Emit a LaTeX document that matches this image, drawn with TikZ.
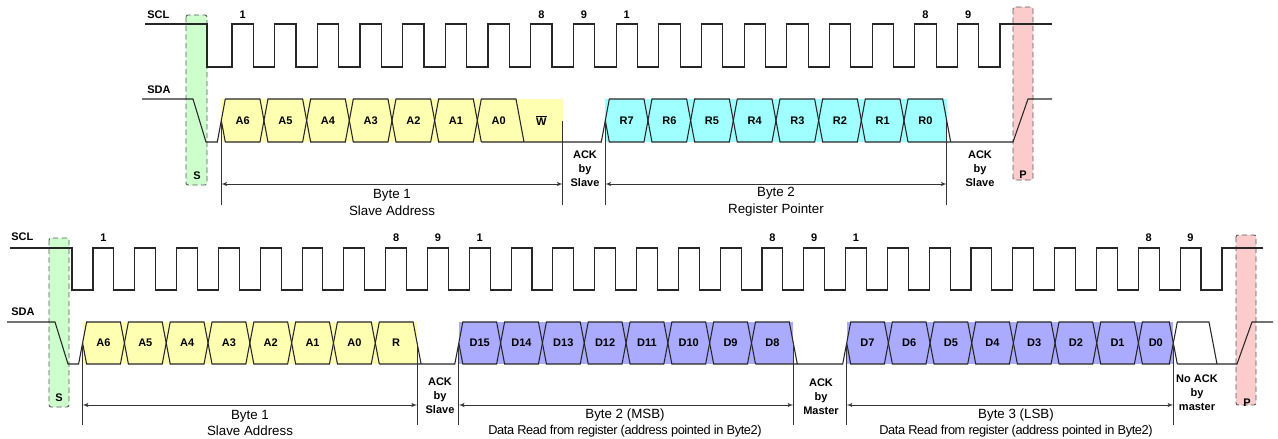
\documentclass[tikz,border=0pt]{standalone}
\usepackage{fontspec}
\setmainfont{Liberation Sans}
\usetikzlibrary{arrows}
\definecolor{addrfill}{RGB}{255,255,178}
\definecolor{regfill}{RGB}{160,255,255}
\definecolor{datafill}{RGB}{170,170,255}
\definecolor{startfill}{RGB}{204,255,204}
\definecolor{stopfill}{RGB}{252,204,204}
\tikzset{
    wave/.style={
        draw=black!85,
        line width=0.8pt},
    bit/.style={
        font=\fontsize{8.25}{10}\selectfont\bfseries,
        inner sep=0pt},
    tag/.style={
        font=\fontsize{8.25}{10.5}\selectfont\bfseries,
        align=center,
        inner sep=0pt},
    bytetext/.style={
        font=\fontsize{10}{12.75}\selectfont,
        align=center,
        inner sep=0pt},
    marker/.style={
        draw=black!80,
        line width=0.6pt},
    span/.style={
        draw=black!80,
        line width=0.5pt,
        <->,>=latex'},
    condbox/.style={
        draw=black!65,
        line width=0.7pt,
        dash pattern=on 4pt off 2.5pt,
        rounded corners=1.5pt}}

\begin{document}
\begin{tikzpicture}[x=0.75pt,y=-0.75pt]
    \useasboundingbox (0,0) rectangle (1278,439);

    \draw[condbox,fill=startfill] (186,15) rectangle (207,185);
    \draw[condbox,fill=stopfill] (1013,7) rectangle (1033,180);
    \fill[addrfill] (221.3,99) rectangle (562.7,142);
    \fill[regfill] (605.3,99) rectangle (946.7,142);

    \node[bit,anchor=west] (scl1) at (147,15) {SCL};
    \node[bit,anchor=west] (sda1) at (147,90) {SDA};
    \draw[wave] (145,24) -- (207,24) -- (207,67)
        \foreach \k in {0,...,17} { -- ({232+42.67*\k},67) -- ++(0,-43) -- ++(21.33,0) -- ++(0,43) }
        -- (1000,67) -- (1000,24) -- (1052,24);
    \foreach \k/\n in {0/1,7/8,8/9,9/1,16/8,17/9}
        \node[bit] (tc\k) at ({242.67+42.67*\k},15) {\n};

    \draw[wave] (142,99) -- (193,99) -- (206,142) -- (217.3,142) -- (221.3,120.5);
    \foreach \k in {0,...,5}
        \draw[wave] ({221.3+42.67*\k},120.5) -- ++(4,-21.5) -- ++(34.67,0) -- ++(4,21.5) -- ++(-4,21.5) -- ++(-34.67,0) -- cycle;
    \draw[wave] (481.3,142) -- (477.3,120.5) -- (481.3,99) -- (516,99) -- (524,142);
    \draw[wave] (481.3,142) -- (601.3,142) -- (605.3,120.5);
    \foreach \t [count=\k from 0] in {A6,A5,A4,A3,A2,A1,A0,{$\overline{\hbox{W}}$}}
        \node[bit] (ta\k) at ({242.67+42.67*\k},120.5) {\t};

    \foreach \k in {0,...,6}
        \draw[wave] ({605.3+42.67*\k},120.5) -- ++(4,-21.5) -- ++(34.67,0) -- ++(4,21.5) -- ++(-4,21.5) -- ++(-34.67,0) -- cycle;
    \draw[wave] (908,142) -- (904,120.5) -- (908,99) -- (942.7,99) -- (950.7,142);
    \draw[wave] (908,142) -- (1013,142) -- (1028,99) -- (1052,99);
    \foreach \t [count=\k from 0] in {R7,R6,R5,R4,R3,R2,R1,R0}
        \node[bit] (tr\k) at ({626.67+42.67*\k},120.5) {\t};

    \foreach \x in {221.3,562.7,605.3,946.7}
        \draw[marker] (\x,120.5) -- (\x,205);
    \coordinate (tb1l) at (221.3,184);
    \coordinate (tb1r) at (562.7,184);
    \coordinate (tb2l) at (605.3,184);
    \coordinate (tb2r) at (946.7,184);
    \draw[span] (tb1l) -- (tb1r);
    \draw[span] (tb2l) -- (tb2r);
    \node[bytetext] (tb1) at (392,202) {Byte 1\\Slave Address};
    \node[bytetext] (tb2) at (776,202) {Byte 2\\Register Pointer};
    \node[tag] (tack1) at (585,169) {ACK\\by\\Slave};
    \node[tag] (tack2) at (980,169) {ACK\\by\\Slave};
    \node[bit] (ts) at (197,176) {S};
    \node[bit] (tp) at (1023,175) {P};

    \draw[condbox,fill=startfill] (49,238) rectangle (69,407);
    \draw[condbox,fill=stopfill] (1236,235) rectangle (1256,405);
    \fill[addrfill] (82.6,322) rectangle (417.1,364);
    \fill[datafill] (458.8,322) rectangle (793.3,364);
    \fill[datafill] (846.7,322) rectangle (1173.3,364);

    \node[bit,anchor=west] (scl2) at (11,237) {SCL};
    \node[bit,anchor=west] (sda2) at (11,312) {SDA};
    \draw[wave] (10,248) -- (72,248) -- (72,290)
        \foreach \k in {0,...,26} { -- ({93+41.81*\k},290) -- ++(0,-42) -- ++(20.9,0) -- ++(0,42) }
        -- (1222,290) -- (1222,248) -- (1263,248);
    \foreach \k/\n in {0/1,7/8,8/9,9/1,16/8,17/9,18/1,25/8,26/9}
        \node[bit] (bc\k) at ({103.45+41.81*\k},238) {\n};

    \draw[wave] (7,322) -- (55,322) -- (68,364) -- (78.6,364) -- (82.6,343);
    \foreach \k in {0,...,6}
        \draw[wave] ({82.6+41.81*\k},343) -- ++(4,-21) -- ++(33.81,0) -- ++(4,21) -- ++(-4,21) -- ++(-33.81,0) -- cycle;
    \draw[wave] (379.3,364) -- (375.3,343) -- (379.3,322) -- (413.1,322) -- (421.1,364);
    \draw[wave] (379.3,364) -- (454.8,364) -- (458.8,343);
    \foreach \t [count=\k from 0] in {A6,A5,A4,A3,A2,A1,A0,R}
        \node[bit] (ba\k) at ({103.5+41.81*\k},343) {\t};

    \foreach \k in {0,...,6}
        \draw[wave] ({458.8+41.81*\k},343) -- ++(4,-21) -- ++(33.81,0) -- ++(4,21) -- ++(-4,21) -- ++(-33.81,0) -- cycle;
    \draw[wave] (755.5,364) -- (751.5,343) -- (755.5,322) -- (789.3,322) -- (797.3,364);
    \draw[wave] (755.5,364) -- (842.7,364) -- (846.7,343);
    \foreach \t [count=\k from 0] in {D15,D14,D13,D12,D11,D10,D9,D8}
        \node[bit] (bm\k) at ({479.7+41.81*\k},343) {\t};

    \foreach \k in {0,...,6}
        \draw[wave] ({846.7+41.67*\k},343) -- ++(4,-21) -- ++(33.67,0) -- ++(4,21) -- ++(-4,21) -- ++(-33.67,0) -- cycle;
    \draw[wave] (1138.4,343) -- (1142.4,322) -- (1169.3,322) -- (1173.3,343) -- (1169.3,364) -- (1142.4,364) -- cycle;
    \draw[wave] (1177.3,364) -- (1173.3,343) -- (1177.3,322) -- (1209,322) -- (1217,364);
    \draw[wave] (1177.3,364) -- (1237,364) -- (1252,322) -- (1273,322);
    \foreach \t [count=\k from 0] in {D7,D6,D5,D4,D3,D2,D1}
        \node[bit] (bl\k) at ({867.5+41.67*\k},343) {\t};
    \node[bit] (bl7) at (1155.8,343) {D0};

    \foreach \x in {82.6,417.1,458.8,793.3,846.7,1173.3}
        \draw[marker] (\x,343) -- (\x,425);
    \coordinate (bb1l) at (82.6,405);
    \coordinate (bb1r) at (417.1,405);
    \coordinate (bb2l) at (458.8,405);
    \coordinate (bb2r) at (793.3,405);
    \coordinate (bb3l) at (846.7,405);
    \coordinate (bb3r) at (1173.3,405);
    \draw[span] (bb1l) -- (bb1r);
    \draw[span] (bb2l) -- (bb2r);
    \draw[span] (bb3l) -- (bb3r);
    \node[bytetext,font=\fontsize{10}{12}\selectfont] (bb1) at (250,423) {Byte 1\\Slave Address};
    \node[bytetext,font=\fontsize{10}{12}\selectfont] (bb2) at (625,423)
        {Byte 2 (MSB)\\\fontsize{9.6}{12}\selectfont\addfontfeature{LetterSpace=-3}Data Read from register (address pointed in Byte2)};
    \node[bytetext,font=\fontsize{10}{12}\selectfont] (bb3) at (1016,423)
        {Byte 3 (LSB)\\\fontsize{9.6}{12}\selectfont\addfontfeature{LetterSpace=-3}Data Read from register (address pointed in Byte2)};
    \node[tag] (back1) at (440,396) {ACK\\by\\Slave};
    \node[tag] (back2) at (821,397) {ACK\\by\\Master};
    \node[tag] (back3) at (1197,393) {No ACK\\by\\master};
    \node[bit] (bs) at (59,398) {S};
    \node[bit] (bp) at (1247,403) {P};
\end{tikzpicture}
\end{document}
